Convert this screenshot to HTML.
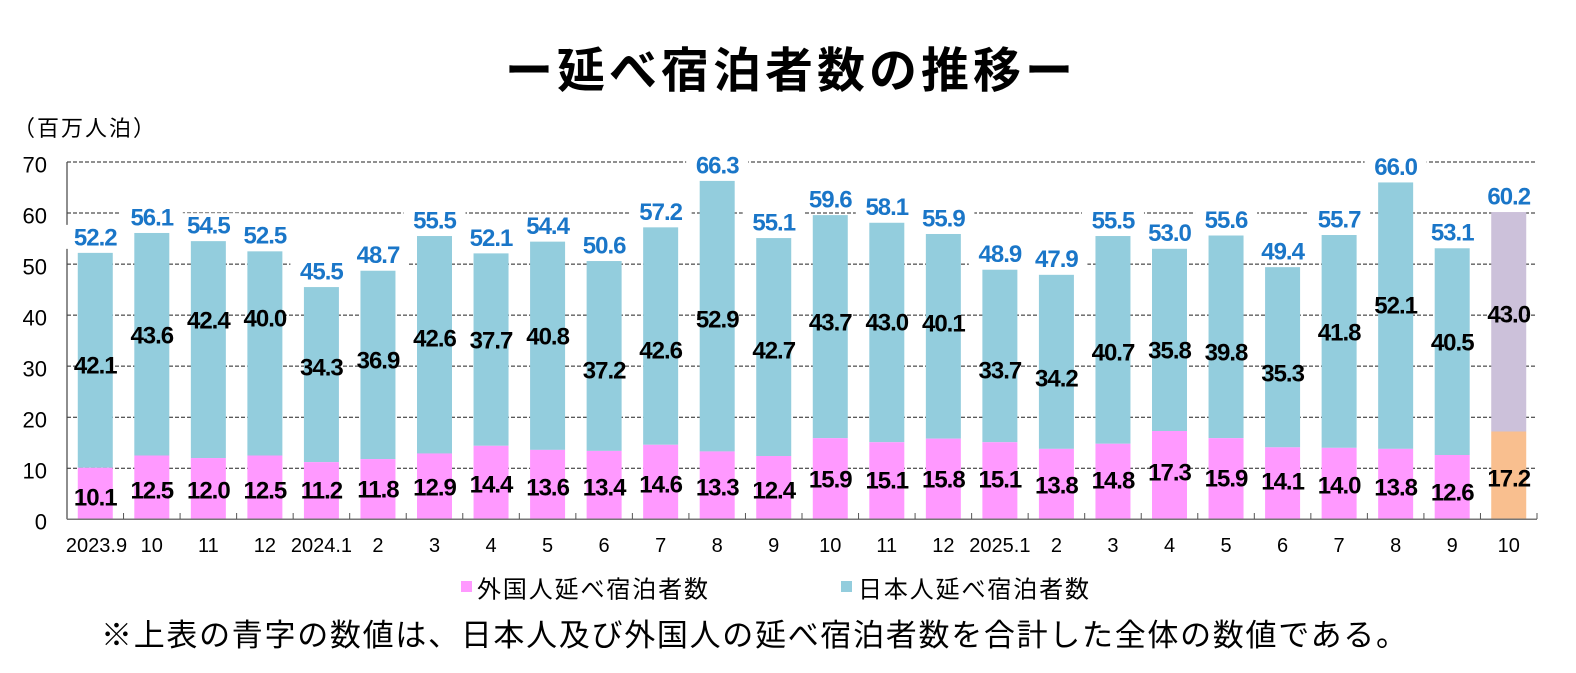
<!DOCTYPE html>
<html><head><meta charset="utf-8"><style>
html,body{margin:0;padding:0;background:#fff;}
svg{display:block;}
.n{font-family:"Liberation Sans",sans-serif;font-weight:bold;font-size:24px;letter-spacing:-1px;fill:#000;text-anchor:middle;}
.t{font-family:"Liberation Sans",sans-serif;font-weight:bold;font-size:24px;letter-spacing:-1px;fill:#1a76c8;text-anchor:middle;}
.ax{font-family:"Liberation Sans",sans-serif;font-size:22px;fill:#000;text-anchor:end;}
.xl{font-family:"Liberation Sans",sans-serif;font-size:20px;fill:#000;text-anchor:middle;}
.j{font-family:"Liberation Sans","Noto Sans CJK JP",sans-serif;fill:#000;}
</style></head><body>
<svg width="1576" height="673" viewBox="0 0 1576 673" xmlns="http://www.w3.org/2000/svg">
<rect width="1576" height="673" fill="#fff"/>
<text class="j" x="505" y="87" font-size="48" font-weight="bold" textLength="568" lengthAdjust="spacing">ー延べ宿泊者数の推移ー</text>
<text class="j" x="13" y="136" font-size="22" textLength="142" lengthAdjust="spacing">（百万人泊）</text>
<g stroke="#222" stroke-width="1" stroke-dasharray="4 2">
<line x1="67" y1="468.26" x2="1537" y2="468.26"/>
<line x1="67" y1="417.22" x2="1537" y2="417.22"/>
<line x1="67" y1="366.18" x2="1537" y2="366.18"/>
<line x1="67" y1="315.14" x2="1537" y2="315.14"/>
<line x1="67" y1="264.1" x2="1537" y2="264.1"/>
<line x1="67" y1="213.06" x2="1537" y2="213.06"/>
<line x1="67" y1="162.02" x2="1537" y2="162.02"/>
</g>
<g>
<text class="ax" x="47" y="529.7">0</text>
<text class="ax" x="47" y="478.7">10</text>
<text class="ax" x="47" y="427.6">20</text>
<text class="ax" x="47" y="376.6">30</text>
<text class="ax" x="47" y="325.5">40</text>
<text class="ax" x="47" y="274.5">50</text>
<text class="ax" x="47" y="223.5">60</text>
<text class="ax" x="47" y="172.4">70</text>
</g>
<g fill="#93cddd">
<rect x="77.77" y="252.87" width="35" height="214.88"/>
<rect x="134.31" y="232.97" width="35" height="222.53"/>
<rect x="190.85" y="241.13" width="35" height="216.92"/>
<rect x="247.38" y="251.34" width="35" height="204.16"/>
<rect x="303.92" y="287.07" width="35" height="175.07"/>
<rect x="360.46" y="270.74" width="35" height="188.33"/>
<rect x="417" y="236.03" width="35" height="217.43"/>
<rect x="473.54" y="253.38" width="35" height="192.42"/>
<rect x="530.08" y="241.64" width="35" height="208.25"/>
<rect x="586.62" y="261.04" width="35" height="189.87"/>
<rect x="643.15" y="227.35" width="35" height="217.43"/>
<rect x="699.69" y="180.9" width="35" height="270.52"/>
<rect x="756.23" y="238.07" width="35" height="217.94"/>
<rect x="812.77" y="215.1" width="35" height="223.05"/>
<rect x="869.31" y="222.76" width="35" height="219.47"/>
<rect x="925.85" y="233.99" width="35" height="204.67"/>
<rect x="982.38" y="269.71" width="35" height="172.52"/>
<rect x="1038.92" y="274.82" width="35" height="174.04"/>
<rect x="1095.46" y="236.03" width="35" height="207.73"/>
<rect x="1152" y="248.79" width="35" height="182.21"/>
<rect x="1208.54" y="235.52" width="35" height="202.63"/>
<rect x="1265.08" y="267.16" width="35" height="180.17"/>
<rect x="1321.62" y="235.01" width="35" height="212.83"/>
<rect x="1378.15" y="182.44" width="35" height="266.42"/>
<rect x="1434.69" y="248.28" width="35" height="206.71"/>
</g>
<rect x="1491.23" y="212.04" width="35" height="219.47" fill="#ccc1da"/>
<g fill="#ff99ff">
<rect x="77.77" y="467.75" width="35" height="51.55"/>
<rect x="134.31" y="455.5" width="35" height="63.8"/>
<rect x="190.85" y="458.05" width="35" height="61.25"/>
<rect x="247.38" y="455.5" width="35" height="63.8"/>
<rect x="303.92" y="462.14" width="35" height="57.16"/>
<rect x="360.46" y="459.07" width="35" height="60.23"/>
<rect x="417" y="453.46" width="35" height="65.84"/>
<rect x="473.54" y="445.8" width="35" height="73.5"/>
<rect x="530.08" y="449.89" width="35" height="69.41"/>
<rect x="586.62" y="450.91" width="35" height="68.39"/>
<rect x="643.15" y="444.78" width="35" height="74.52"/>
<rect x="699.69" y="451.42" width="35" height="67.88"/>
<rect x="756.23" y="456.01" width="35" height="63.29"/>
<rect x="812.77" y="438.15" width="35" height="81.15"/>
<rect x="869.31" y="442.23" width="35" height="77.07"/>
<rect x="925.85" y="438.66" width="35" height="80.64"/>
<rect x="982.38" y="442.23" width="35" height="77.07"/>
<rect x="1038.92" y="448.86" width="35" height="70.44"/>
<rect x="1095.46" y="443.76" width="35" height="75.54"/>
<rect x="1152" y="431" width="35" height="88.3"/>
<rect x="1208.54" y="438.15" width="35" height="81.15"/>
<rect x="1265.08" y="447.33" width="35" height="71.97"/>
<rect x="1321.62" y="447.84" width="35" height="71.46"/>
<rect x="1378.15" y="448.86" width="35" height="70.44"/>
<rect x="1434.69" y="454.99" width="35" height="64.31"/>
</g>
<rect x="1491.23" y="431.51" width="35" height="87.79" fill="#f9bf8f"/>
<line x1="67" y1="162" x2="67" y2="519.3" stroke="#444" stroke-width="1.2"/>
<line x1="67" y1="519.3" x2="1537" y2="519.3" stroke="#777" stroke-width="1.5"/>
<g stroke="#555" stroke-width="1">
<line x1="123.54" y1="513" x2="123.54" y2="519"/><line x1="180.08" y1="513" x2="180.08" y2="519"/><line x1="236.62" y1="513" x2="236.62" y2="519"/><line x1="293.15" y1="513" x2="293.15" y2="519"/><line x1="349.69" y1="513" x2="349.69" y2="519"/><line x1="406.23" y1="513" x2="406.23" y2="519"/><line x1="462.77" y1="513" x2="462.77" y2="519"/><line x1="519.31" y1="513" x2="519.31" y2="519"/><line x1="575.85" y1="513" x2="575.85" y2="519"/><line x1="632.38" y1="513" x2="632.38" y2="519"/><line x1="688.92" y1="513" x2="688.92" y2="519"/><line x1="745.46" y1="513" x2="745.46" y2="519"/><line x1="802" y1="513" x2="802" y2="519"/><line x1="858.54" y1="513" x2="858.54" y2="519"/><line x1="915.08" y1="513" x2="915.08" y2="519"/><line x1="971.62" y1="513" x2="971.62" y2="519"/><line x1="1028.15" y1="513" x2="1028.15" y2="519"/><line x1="1084.69" y1="513" x2="1084.69" y2="519"/><line x1="1141.23" y1="513" x2="1141.23" y2="519"/><line x1="1197.77" y1="513" x2="1197.77" y2="519"/><line x1="1254.31" y1="513" x2="1254.31" y2="519"/><line x1="1310.85" y1="513" x2="1310.85" y2="519"/><line x1="1367.38" y1="513" x2="1367.38" y2="519"/><line x1="1423.92" y1="513" x2="1423.92" y2="519"/><line x1="1480.46" y1="513" x2="1480.46" y2="519"/><line x1="1537" y1="513" x2="1537" y2="519"/>
</g>
<g fill="#fff">
<rect x="64.27" y="224.87" width="62" height="24"/>
<rect x="120.81" y="204.97" width="62" height="24"/>
<rect x="177.35" y="213.13" width="62" height="24"/>
<rect x="233.88" y="223.34" width="62" height="24"/>
<rect x="290.42" y="259.07" width="62" height="24"/>
<rect x="346.96" y="242.74" width="62" height="24"/>
<rect x="403.5" y="208.03" width="62" height="24"/>
<rect x="460.04" y="225.38" width="62" height="24"/>
<rect x="516.58" y="213.64" width="62" height="24"/>
<rect x="573.12" y="233.04" width="62" height="24"/>
<rect x="629.65" y="199.35" width="62" height="24"/>
<rect x="686.19" y="152.9" width="62" height="24"/>
<rect x="742.73" y="210.07" width="62" height="24"/>
<rect x="799.27" y="188.1" width="62" height="23"/>
<rect x="855.81" y="194.76" width="62" height="24"/>
<rect x="912.35" y="205.99" width="62" height="24"/>
<rect x="968.88" y="241.71" width="62" height="24"/>
<rect x="1025.42" y="246.82" width="62" height="24"/>
<rect x="1081.96" y="208.03" width="62" height="24"/>
<rect x="1138.5" y="220.79" width="62" height="24"/>
<rect x="1195.04" y="207.52" width="62" height="24"/>
<rect x="1251.58" y="239.16" width="62" height="24"/>
<rect x="1308.12" y="207.01" width="62" height="24"/>
<rect x="1364.65" y="154.44" width="62" height="24"/>
<rect x="1421.19" y="220.28" width="62" height="24"/>
<rect x="1477.73" y="184.04" width="62" height="24"/>
</g>
<g>
<text class="t" x="95.27" y="245.3">52.2</text>
<text class="t" x="151.81" y="225.4">56.1</text>
<text class="t" x="208.35" y="233.5">54.5</text>
<text class="t" x="264.88" y="243.7">52.5</text>
<text class="t" x="321.42" y="279.5">45.5</text>
<text class="t" x="377.96" y="263.1">48.7</text>
<text class="t" x="434.5" y="228.4">55.5</text>
<text class="t" x="491.04" y="245.8">52.1</text>
<text class="t" x="547.58" y="234">54.4</text>
<text class="t" x="604.12" y="253.4">50.6</text>
<text class="t" x="660.65" y="219.8">57.2</text>
<text class="t" x="717.19" y="173.3">66.3</text>
<text class="t" x="773.73" y="230.5">55.1</text>
<text class="t" x="830.27" y="207.5">59.6</text>
<text class="t" x="886.81" y="215.2">58.1</text>
<text class="t" x="943.35" y="226.4">55.9</text>
<text class="t" x="999.88" y="262.1">48.9</text>
<text class="t" x="1056.42" y="267.2">47.9</text>
<text class="t" x="1112.96" y="228.4">55.5</text>
<text class="t" x="1169.5" y="241.2">53.0</text>
<text class="t" x="1226.04" y="227.9">55.6</text>
<text class="t" x="1282.58" y="259.6">49.4</text>
<text class="t" x="1339.12" y="227.4">55.7</text>
<text class="t" x="1395.65" y="174.8">66.0</text>
<text class="t" x="1452.19" y="240.7">53.1</text>
<text class="t" x="1508.73" y="204.5">60.2</text>
</g>
<g>
<text class="n" x="95.27" y="373.6">42.1</text>
<text class="n" x="151.81" y="343.6">43.6</text>
<text class="n" x="208.35" y="328.6">42.4</text>
<text class="n" x="264.88" y="326.6">40.0</text>
<text class="n" x="321.42" y="375.3">34.3</text>
<text class="n" x="377.96" y="368.6">36.9</text>
<text class="n" x="434.5" y="346.6">42.6</text>
<text class="n" x="491.04" y="348.6">37.7</text>
<text class="n" x="547.58" y="344.6">40.8</text>
<text class="n" x="604.12" y="378.6">37.2</text>
<text class="n" x="660.65" y="358.6">42.6</text>
<text class="n" x="717.19" y="327.6">52.9</text>
<text class="n" x="773.73" y="358.6">42.7</text>
<text class="n" x="830.27" y="330.6">43.7</text>
<text class="n" x="886.81" y="330.6">43.0</text>
<text class="n" x="943.35" y="331.6">40.1</text>
<text class="n" x="999.88" y="378.6">33.7</text>
<text class="n" x="1056.42" y="386.6">34.2</text>
<text class="n" x="1112.96" y="360.6">40.7</text>
<text class="n" x="1169.5" y="358.6">35.8</text>
<text class="n" x="1226.04" y="360.6">39.8</text>
<text class="n" x="1282.58" y="381.6">35.3</text>
<text class="n" x="1339.12" y="340.3">41.8</text>
<text class="n" x="1395.65" y="313.6">52.1</text>
<text class="n" x="1452.19" y="350.3">40.5</text>
<text class="n" x="1508.73" y="322.6">43.0</text>
</g>
<g>
<text class="n" x="95.27" y="505.3">10.1</text>
<text class="n" x="151.81" y="498.6">12.5</text>
<text class="n" x="208.35" y="498.6">12.0</text>
<text class="n" x="264.88" y="498.6">12.5</text>
<text class="n" x="321.42" y="498.6">11.2</text>
<text class="n" x="377.96" y="497.6">11.8</text>
<text class="n" x="434.5" y="495.3">12.9</text>
<text class="n" x="491.04" y="492.6">14.4</text>
<text class="n" x="547.58" y="495.3">13.6</text>
<text class="n" x="604.12" y="495.6">13.4</text>
<text class="n" x="660.65" y="492.6">14.6</text>
<text class="n" x="717.19" y="495.6">13.3</text>
<text class="n" x="773.73" y="498.6">12.4</text>
<text class="n" x="830.27" y="487.6">15.9</text>
<text class="n" x="886.81" y="488.6">15.1</text>
<text class="n" x="943.35" y="487.6">15.8</text>
<text class="n" x="999.88" y="487.6">15.1</text>
<text class="n" x="1056.42" y="493.6">13.8</text>
<text class="n" x="1112.96" y="488.6">14.8</text>
<text class="n" x="1169.5" y="480.6">17.3</text>
<text class="n" x="1226.04" y="486.6">15.9</text>
<text class="n" x="1282.58" y="489.6">14.1</text>
<text class="n" x="1339.12" y="493.6">14.0</text>
<text class="n" x="1395.65" y="495.3">13.8</text>
<text class="n" x="1452.19" y="500.3">12.6</text>
<text class="n" x="1508.73" y="486.6">17.2</text>
</g>
<g>
<text class="xl" x="96.5" y="552">2023.9</text>
<text class="xl" x="151.81" y="552">10</text>
<text class="xl" x="208.35" y="552">11</text>
<text class="xl" x="264.88" y="552">12</text>
<text class="xl" x="321.42" y="552">2024.1</text>
<text class="xl" x="377.96" y="552">2</text>
<text class="xl" x="434.5" y="552">3</text>
<text class="xl" x="491.04" y="552">4</text>
<text class="xl" x="547.58" y="552">5</text>
<text class="xl" x="604.12" y="552">6</text>
<text class="xl" x="660.65" y="552">7</text>
<text class="xl" x="717.19" y="552">8</text>
<text class="xl" x="773.73" y="552">9</text>
<text class="xl" x="830.27" y="552">10</text>
<text class="xl" x="886.81" y="552">11</text>
<text class="xl" x="943.35" y="552">12</text>
<text class="xl" x="999.88" y="552">2025.1</text>
<text class="xl" x="1056.42" y="552">2</text>
<text class="xl" x="1112.96" y="552">3</text>
<text class="xl" x="1169.5" y="552">4</text>
<text class="xl" x="1226.04" y="552">5</text>
<text class="xl" x="1282.58" y="552">6</text>
<text class="xl" x="1339.12" y="552">7</text>
<text class="xl" x="1395.65" y="552">8</text>
<text class="xl" x="1452.19" y="552">9</text>
<text class="xl" x="1508.73" y="552">10</text>
</g>
<rect x="461" y="581" width="11" height="11" fill="#ff99ff"/>
<text class="j" x="477" y="597.5" font-size="24" textLength="231" lengthAdjust="spacing">外国人延べ宿泊者数</text>
<rect x="841" y="581" width="11" height="11" fill="#93cddd"/>
<text class="j" x="858" y="597.5" font-size="24" textLength="231" lengthAdjust="spacing">日本人延べ宿泊者数</text>
<text class="j" x="101" y="646" font-size="31" textLength="1306" lengthAdjust="spacing">※上表の青字の数値は、日本人及び外国人の延べ宿泊者数を合計した全体の数値である。</text>
</svg>
</body></html>
